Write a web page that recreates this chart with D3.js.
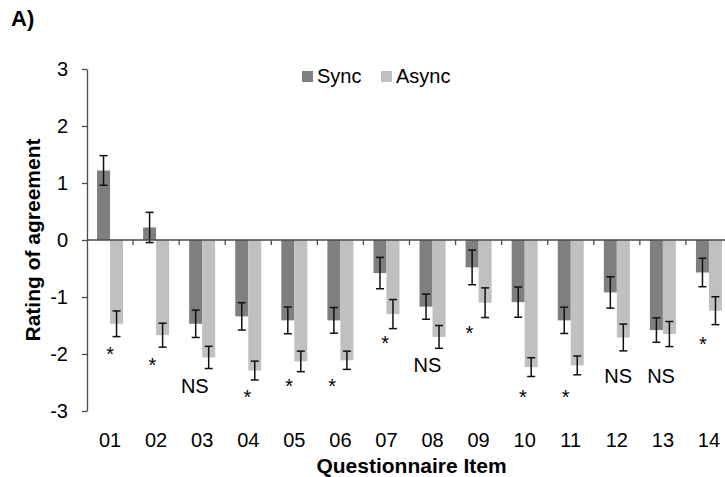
<!DOCTYPE html>
<html>
<head>
<meta charset="utf-8">
<script src="https://cdn.jsdelivr.net/npm/d3@7"></script>
<style>
  html, body { margin: 0; padding: 0; background: #fff; }
  svg { display: block; font-family: "Liberation Sans", Arial, sans-serif; }
</style>
</head>
<body>
<svg id="chart" width="725" height="477"></svg>
<script>
// ---- data ----
const categories = ["01","02","03","04","05","06","07","08","09","10","11","12","13","14"];
const seriesNames = ["Sync", "Async"];
const syncMean  = [1.22, 0.22, -1.47, -1.34, -1.41, -1.41, -0.58, -1.17, -0.48, -1.09, -1.41, -0.92, -1.58, -0.57];
const syncErr   = [0.26, 0.265, 0.24, 0.24, 0.235, 0.225, 0.275, 0.22, 0.305, 0.265, 0.23, 0.275, 0.215, 0.25];
const asyncMean = [-1.47, -1.67, -2.06, -2.29, -2.13, -2.11, -1.30, -1.70, -1.10, -2.23, -2.20, -1.71, -1.65, -1.24];
const asyncErr  = [0.225, 0.21, 0.195, 0.165, 0.18, 0.16, 0.255, 0.20, 0.26, 0.165, 0.165, 0.235, 0.22, 0.245];
const yTicks = [-3, -2, -1, 0, 1, 2, 3];
// significance annotations: label and its baseline value on the rating scale
const annLabels = ["*", "*", "NS", "*", "*", "*", "*", "NS", "*", "*", "*", "NS", "NS", "*"];
const annValues = [-2.12, -2.31, -2.69, -2.88, -2.69, -2.69, -1.93, -2.32, -1.76, -2.88, -2.88, -2.51, -2.51, -1.94];
const annShift  = [0, -0.08, -0.16, -0.02, -0.11, -0.18, -0.03, -0.11, -0.2, -0.04, -0.11, 0.03, -0.04, -0.13];

(function () {
// ---- layout ----
const svg = d3.select("#chart");
const mLeft = 87, mRight = 732, mTop = 69, mBottom = 411;
const colors = { Sync: "#7f7f7f", Async: "#c0c0c0" };
const axisColor = "#4a4a4a";

const x = d3.scaleBand().domain(categories).range([mLeft, mRight]).paddingInner(0).paddingOuter(0);
const x1 = d3.scaleBand().domain(seriesNames).range([0, x.bandwidth()]).paddingInner(0).paddingOuter(0.772);
const y = d3.scaleLinear().domain([-3, 3]).range([mBottom, mTop]);

const rows = categories.map((c, i) => ({
  cat: c,
  vals: [
    { key: "Sync", v: syncMean[i], e: syncErr[i] },
    { key: "Async", v: asyncMean[i], e: asyncErr[i] }
  ]
}));

// bars
const g = svg.append("g");
const grp = g.selectAll("g.cat").data(rows).join("g")
  .attr("class", "cat")
  .attr("transform", d => `translate(${x(d.cat)},0)`);

grp.selectAll("rect").data(d => d.vals).join("rect")
  .attr("x", d => x1(d.key))
  .attr("width", x1.bandwidth())
  .attr("y", d => y(Math.max(0, d.v)))
  .attr("height", d => Math.abs(y(d.v) - y(0)))
  .attr("fill", d => colors[d.key]);

// error bars
const eb = grp.selectAll("g.err").data(d => d.vals).join("g").attr("class", "err")
  .attr("stroke", "#111").attr("stroke-width", 1.5).attr("fill", "none");
const cx = d => x1(d.key) + x1.bandwidth() / 2;
eb.append("line").attr("x1", cx).attr("x2", cx)
  .attr("y1", d => y(d.v + d.e)).attr("y2", d => y(d.v - d.e));
eb.append("line").attr("x1", d => cx(d) - 4).attr("x2", d => cx(d) + 4)
  .attr("y1", d => y(d.v + d.e)).attr("y2", d => y(d.v + d.e));
eb.append("line").attr("x1", d => cx(d) - 4).attr("x2", d => cx(d) + 4)
  .attr("y1", d => y(d.v - d.e)).attr("y2", d => y(d.v - d.e));

// y axis
const yAxis = d3.axisLeft(y).tickValues(yTicks).tickSizeOuter(0).tickSizeInner(5).tickPadding(14)
  .tickFormat(d => (d < 0 ? "-" + Math.abs(d) : String(d)));
const yg = svg.append("g").attr("transform", `translate(${mLeft},0)`).call(yAxis);
yg.select(".domain").attr("stroke", axisColor).attr("stroke-width", 1.3);
yg.selectAll(".tick line").attr("stroke", axisColor).attr("stroke-width", 1.3);
yg.selectAll(".tick text").attr("font-size", 20).attr("fill", "#000")
  .attr("font-family", "Liberation Sans, Arial, sans-serif");

// x axis at zero
const boundaries = categories.map(c => x(c)).concat([mRight]).slice(1);
svg.append("line").attr("x1", mLeft).attr("x2", mRight).attr("y1", y(0)).attr("y2", y(0))
  .attr("stroke", axisColor).attr("stroke-width", 1.3);
svg.append("g").selectAll("line").data(boundaries).join("line")
  .attr("x1", d => d).attr("x2", d => d).attr("y1", y(0)).attr("y2", y(0) + 5)
  .attr("stroke", axisColor).attr("stroke-width", 1.3);

// category labels (low position)
svg.append("g").selectAll("text").data(categories).join("text")
  .attr("x", d => x(d) + x.bandwidth() / 2)
  .attr("y", y(-3) + 36)
  .attr("text-anchor", "middle")
  .attr("font-size", 20)
  .attr("fill", "#000")
  .text(d => d);

// annotations
svg.append("g").selectAll("text").data(categories).join("text")
  .attr("x", (d, i) => x(d) + x.bandwidth() * (0.5 + annShift[i]))
  .attr("y", (d, i) => y(annValues[i]))
  .attr("text-anchor", "middle")
  .attr("font-size", 20)
  .attr("fill", "#000")
  .text((d, i) => annLabels[i]);

// axis titles
svg.append("text")
  .attr("x", (mLeft + mRight) / 2 + 2).attr("y", 473)
  .attr("text-anchor", "middle").attr("font-size", 21).attr("font-weight", "bold")
  .text("Questionnaire Item");
svg.append("text")
  .attr("transform", `translate(40,${(mTop + mBottom) / 2}) rotate(-90)`)
  .attr("text-anchor", "middle").attr("font-size", 21).attr("font-weight", "bold")
  .text("Rating of agreement");

// panel label
svg.append("text").attr("x", 11).attr("y", 26)
  .attr("font-size", 22).attr("font-weight", "bold").text("A)");

// legend
const leg = svg.append("g").selectAll("g").data(seriesNames).join("g")
  .attr("transform", (d, i) => `translate(${302 + i * 79},71)`);
leg.append("rect").attr("width", 11).attr("height", 11).attr("fill", d => colors[d]);
leg.append("text").attr("x", 15).attr("y", 12).attr("font-size", 20).attr("fill", "#000").text(d => d);
})();
</script>
</body>
</html>
